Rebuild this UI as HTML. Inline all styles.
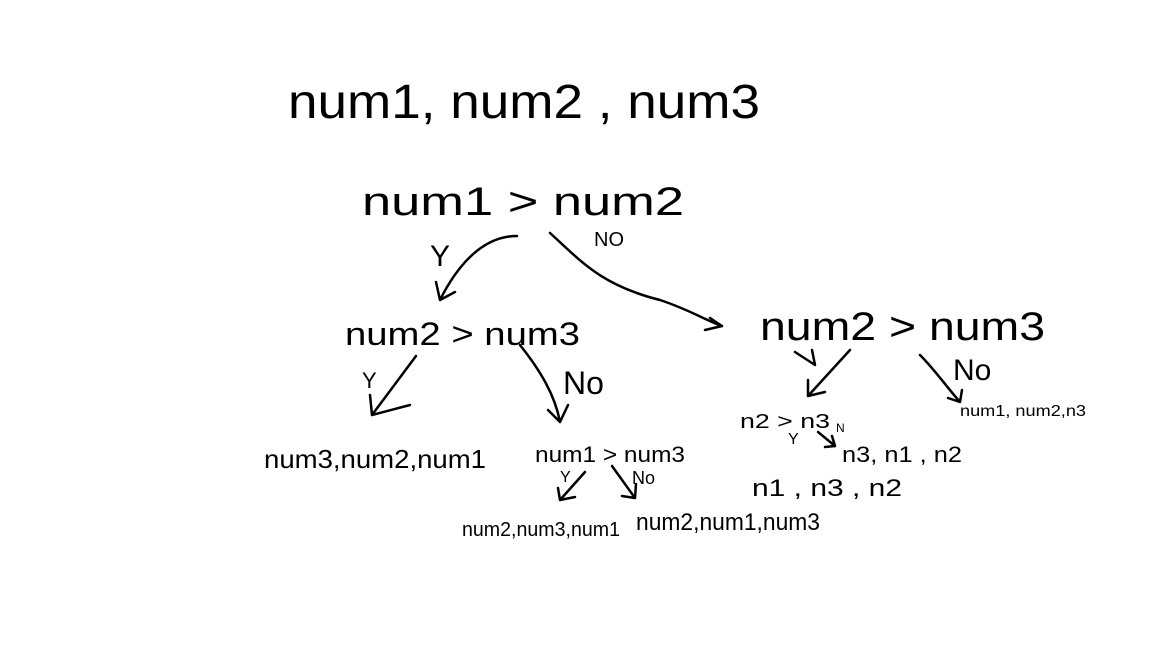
<!DOCTYPE html>
<html><head><meta charset="utf-8"><style>
html,body{margin:0;padding:0;background:#fff;}
svg{display:block;}
text{font-family:"Liberation Sans",sans-serif;fill:#000;}
.a{fill:none;stroke:#000;stroke-width:2.5;stroke-linecap:round;stroke-linejoin:round;}
</style></head><body>
<svg width="1152" height="648" viewBox="0 0 1152 648">
<text x="288" y="118" font-size="48" textLength="472" lengthAdjust="spacingAndGlyphs">num1, num2 , num3</text>
<text x="362" y="215" font-size="40" textLength="322" lengthAdjust="spacingAndGlyphs">num1 &gt; num2</text>
<text x="430" y="266" font-size="30">Y</text>
<text x="594" y="246" font-size="20">NO</text>
<path class="a" d="M517 236 C480 236 455 270 440 300 M440 300 L436 282 M440 300 L455 292"/>
<path class="a" d="M550 233 C580 260 600 285 660 300 C690 310 705 320 722 326 M710 318 L722 326 L705 330"/>
<text x="345" y="345" font-size="32" textLength="235" lengthAdjust="spacingAndGlyphs">num2 &gt; num3</text>
<text x="760" y="340" font-size="40" textLength="285" lengthAdjust="spacingAndGlyphs">num2 &gt; num3</text>
<text x="362" y="388" font-size="22">Y</text>
<path class="a" d="M416 356 L372 415 M370 395 L372 415 L410 405"/>
<text x="563" y="394" font-size="32">No</text>
<path class="a" d="M520 345 C540 370 555 395 560 422 M548 410 L560 422 L568 405"/>
<text x="264" y="468" font-size="26" textLength="222" lengthAdjust="spacingAndGlyphs">num3,num2,num1</text>
<text x="535" y="462" font-size="22" textLength="150" lengthAdjust="spacingAndGlyphs">num1 &gt; num3</text>
<text x="560" y="482" font-size="16">Y</text>
<path class="a" d="M585 472 L560 500 M558 488 L560 500 L575 497"/>
<text x="632" y="484" font-size="18">No</text>
<path class="a" d="M612 466 L635 498 M622 496 L635 498 L636 484"/>
<text x="462" y="536" font-size="20" textLength="158" lengthAdjust="spacingAndGlyphs">num2,num3,num1</text>
<text x="636" y="530" font-size="24" textLength="184" lengthAdjust="spacingAndGlyphs">num2,num1,num3</text>
<path class="a" d="M850 350 L808 396 M808 380 L808 396 L825 392"/>
<path class="a" d="M795 352 L815 365 L812 350"/>
<text x="953" y="380" font-size="30">No</text>
<path class="a" d="M920 355 C935 370 945 385 960 402 M948 398 L960 402 L962 390"/>
<text x="960" y="416" font-size="16" textLength="126" lengthAdjust="spacingAndGlyphs">num1, num2,n3</text>
<text x="740" y="428" font-size="20" textLength="90" lengthAdjust="spacingAndGlyphs">n2 &gt; n3</text>
<text x="788" y="444" font-size="16">Y</text>
<path class="a" d="M818 432 L835 446 M825 447 L835 446 L832 436"/>
<text x="836" y="432" font-size="12">N</text>
<text x="842" y="462" font-size="22" textLength="120" lengthAdjust="spacingAndGlyphs">n3, n1 , n2</text>
<text x="752" y="496" font-size="24" textLength="150" lengthAdjust="spacingAndGlyphs">n1 , n3 , n2</text>
</svg>
</body></html>
